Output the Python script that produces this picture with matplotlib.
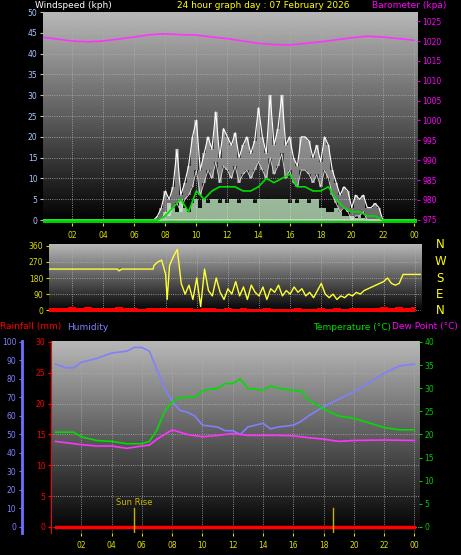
import numpy as np
import matplotlib
matplotlib.use("Agg")
import matplotlib.pyplot as plt

W, H = 461, 555
# ---------------- data ----------------
gust_hours = np.arange(0, 24.01, 0.25)
gust = [0]*30 + [1,3,7,5,8,17,6,9,13,20,24,12,16,20,17,26,15,22,20,18,21,15,18,20,16,19,27,20,16,30,
                18,22,30,18,20,15,13,20,20,19,15,18,14,20,18,12,9,6,8,7,3,6,5,6,3,3,4,3] + [0]*9
gust_low = [0]*32 + [2,1,3,4,2,5,6,8,12,6,9,12,10,14,9,13,12,10,13,9,11,12,10,12,14,12,10,15,
                    11,13,16,10,12,9,8,12,12,11,9,11,8,12,10,6,4,2,3,2,0,1,1,2,0,0,0,0] + [0]*9
speed = [0]*32 + [2,4,3,2,5,3,2,4,5,3,5,4,5,5,4,5,4,5,5,4,5,5,5,4,5,5,5,5,5,5,5,5,4,5,4,5,5,4,5,5,
                 3,3,2,2,3,2,1,1,1,0.5,1,0.5,0,0,0,0] + [0]*9
avg_hours = [0,7.5,8,8.5,9,9.5,10,10.5,11,11.5,12,12.5,13,13.5,14,14.5,15,15.5,16,16.5,17,17.5,18,18.5,19,19.5,20,20.5,21,21.5,22,24.2]
avg_wind = [0,0,1,3,5,2,7,5,7,8,8,8,7,7,8,10,9,10,11,8,8,7,7,8,5,3,2,2,1,1,0,0]
baro_hours = list(range(0, 25))
baro = [1021,1020.5,1020,1019.8,1020,1020.5,1021,1021.6,1021.8,1021.6,1021.5,1021,1020.6,1020,
        1019.4,1019.1,1019,1019.4,1019.8,1020.3,1020.8,1021.2,1021,1020.6,1020.2]

dir_hours = [0.5,4.9,5.0,5.2,7.2,7.25,7.5,7.75,8,8.1,8.25,8.5,8.75,9,9.25,9.5,9.75,10,10.25,10.5,10.75,11,
             11.25,11.5,11.75,12,12.25,12.5,12.75,13,13.25,13.5,13.75,14,14.25,14.5,14.75,15,15.25,15.5,
             15.75,16,16.25,16.5,16.75,17,17.25,17.5,17.75,18,18.25,18.5,18.75,19,19.25,19.5,19.75,20,
             20.25,20.5,20.75,21,21.25,21.5,21.75,22,22.25,22.5,22.75,23,23.25,24.4]
wind_dir = [230,230,220,230,230,250,270,280,200,60,250,300,340,150,90,140,60,180,20,230,110,80,180,100,
            60,120,90,160,80,130,60,140,100,80,130,60,120,100,140,80,110,90,130,100,120,80,100,70,110,
            150,90,70,90,60,80,70,90,80,100,90,110,120,130,140,150,160,180,150,140,150,200,200]
spd_hours = np.arange(0.5, 24.41, 0.5)
spd_mid = [12,15,10,18,12,20,10,14,12,16,10,12,8,14,10,12,15,10,12,8,10,12,9,11,8,10,7,9,10,8,
           9,7,10,8,9,11,8,10,9,12,14,10,13,20,15,18,14,20]

hum_hours = [0.3,1,1.5,2,3,4,5,5.5,6,6.5,7,7.5,8,8.5,9,9.5,10,11,11.5,12,12.5,13,14,14.5,15,16,16.5,17,18,19,20,21,22,23,24]
humidity = [88,86,86,89,91,94,95,97,97,95,85,75,68,63,62,60,55,54,52,52,50,54,56,53,54,55,57,60,65,69,73,78,83,87,88]
temp_hours = [0.3,1.5,2,3,4,5,6,6.5,7,7.5,8,8.5,9,9.5,10,11,11.5,12,12.5,13,14,14.5,15,16,16.5,17,18,19,20,21,22,23,24]
temperature = [20.5,20.5,19.5,18.7,18.5,18,18,18.5,21,25,27,28,28,28,29.5,30,31,31,32,30,29.5,30.5,30,29.5,29.5,27.5,25.5,24,23.5,22.5,21.5,21,21]
dew_hours = [0.3,2,3,4,5,6,6.5,7,7.5,8,9,10,11,12,13,14,15,16,17,18,19,20,22,24]
dewpoint = [18.5,17.8,17.5,17.5,17,17.5,17.7,19,20,21,20,19.5,19.8,20.2,19.8,19.8,19.8,19.7,19.3,19,18.5,18.7,18.8,18.7]
rain_hours = [0.3, 24]
rainfall = [0, 0]
sun_events = [5.5, 18.6]

hour_ticks = list(range(2, 25, 2))
hour_labels = ["%02d" % (h % 24) for h in hour_ticks]

# ---------------- figure ----------------
fig = plt.figure(figsize=(W/100, H/100), dpi=100, facecolor="black")
def ax_at(l, t, r, b):
    return fig.add_axes([l/W, 1-b/H, (r-l)/W, (b-t)/H])

grad = np.linspace(0.72, 0.0, 256).reshape(-1, 1)
def style(ax, xlim):
    ax.set_facecolor("black")
    ax.imshow(grad, cmap="gray", vmin=0, vmax=1, aspect="auto", extent=[0, 1, 0, 1],
              transform=ax.transAxes, zorder=0)
    ax.set_xlim(*xlim)
    ax.set_xticks(hour_ticks)
    ax.grid(True, color="#b0b0b0", ls=":", lw=0.6, zorder=1)
    for s in ax.spines.values():
        s.set_visible(False)
    ax.tick_params(axis="x", colors="#dddd00", labelcolor="#dddd00", labelsize=5.5, length=2)
    ax.tick_params(axis="y", labelsize=5.5, length=2, pad=2)

fs = 6.5
# ---- top panel ----
ax1 = ax_at(43, 12, 417, 223)
style(ax1, (0.13, 24.2))
ax1.set_xticklabels(hour_labels)
ax1.set_ylim(-0.7, 50)
ax1.set_yticks(range(0, 51, 5))
ax1.tick_params(axis="y", colors="#c0c0c0", labelcolor="#a8c8ff")
ax1.axhline(0, color="#c8c8c8", lw=1.2, zorder=2)
ax1.fill_between(gust_hours, gust_low, gust, step="mid", color="#e8e8e8", alpha=0.45, zorder=2, lw=0)
ax1.plot(gust_hours, gust, color="white", lw=0.8, zorder=3)
ax1.plot(gust_hours, gust_low, color="#dddddd", lw=0.6, zorder=3)
ax1.fill_between(gust_hours, 0, speed, step="mid", color="#c8f0c8", alpha=0.75, zorder=4, lw=0)
ax1.plot(avg_hours, avg_wind, color="#00dd00", lw=1.2, zorder=5)
ax1.axhline(-0.5, color="#00cc00", lw=1.5, zorder=5)
ax1b = ax1.twinx()
ax1b.set_ylim(974.2, 1027.3)
ax1b.set_yticks(range(975, 1026, 5))
for s in ax1b.spines.values():
    s.set_visible(False)
ax1b.tick_params(axis="y", colors="#dd00dd", labelcolor="#ff00ff", labelsize=5.5, length=2, pad=2)
ax1b.plot(baro_hours, baro, color="#ff33ff", lw=1.2)
fig.text(35/W, 1-6/H, "Windspeed (kph)", color="white", fontsize=fs, va="center")
fig.text(263/W, 1-6/H, "24 hour graph day : 07 February 2026", color="yellow", fontsize=fs, va="center", ha="center")
fig.text(372/W, 1-6/H, "Barometer (kpa)", color="#ff00ff", fontsize=fs, va="center")

# ---- middle panel ----
ax2 = ax_at(49, 244, 421, 312)
style(ax2, (0.51, 24.4))
ax2.set_xticklabels([])
ax2.tick_params(axis="x", length=0)
ax2.set_ylim(-10, 370)
ax2.set_yticks(range(0, 361, 90))
ax2.tick_params(axis="y", colors="#dddd00", labelcolor="#dddd00")
ax2.fill_between(spd_hours, -10, spd_mid, step="mid", color="red", lw=0, zorder=3)
ax2.plot(dir_hours, wind_dir, color="#ffff33", lw=1.0, zorder=4)
for lab, yy in zip(["N", "W", "S", "E", "N"], [245, 261, 278, 294, 310]):
    fig.text(440/W, 1-yy/H, lab, color="yellow", fontsize=8.5, va="center", ha="center")

# ---- bottom panel ----
ax3 = ax_at(51, 341, 419, 533)
style(ax3, (0.0, 24.3))
ax3.set_xticklabels(hour_labels)
ax3.set_ylim(-1.0, 30.15)
ax3.set_yticks(range(0, 31, 5))
ax3.spines["left"].set_visible(True)
ax3.spines["left"].set_color("red")
ax3.tick_params(axis="y", colors="red", labelcolor="red")
ax3.plot(rain_hours, rainfall, color="red", lw=2.5, zorder=6)
for h in sun_events:
    ax3.plot([h, h], [-1, 3], color="#c8b400", lw=1, zorder=6)
ax3.text(sun_events[0], 3.2, "Sun Rise", color="#c8b400", fontsize=6, ha="center", va="bottom")
axh = ax3.twinx()
axh.set_ylim(-3.3, 100.5)
axh.set_yticks(range(0, 101, 10))
for s in axh.spines.values():
    s.set_visible(False)
axh.spines["left"].set_visible(True)
axh.spines["left"].set_position(("outward", 21))
axh.spines["left"].set_color("#7070ff")
axh.spines["left"].set_linewidth(2)
axh.yaxis.set_ticks_position("left")
axh.yaxis.set_label_position("left")
axh.tick_params(axis="y", colors="#7070ff", labelcolor="#8080ff", labelsize=5.5, length=2, pad=2)
axh.plot(hum_hours, humidity, color="#8080ff", lw=1.2)
axt = ax3.twinx()
axt.set_ylim(-1.3, 40.2)
axt.set_yticks(range(0, 41, 5))
for s in axt.spines.values():
    s.set_visible(False)
axt.tick_params(axis="y", colors="#00cc00", labelcolor="#00cc00", labelsize=5.5, length=2, pad=2)
axt.plot(temp_hours, temperature, color="#00dd00", lw=1.2)
axt.plot(dew_hours, dewpoint, color="#ff33ff", lw=1.2)
fig.text(0, 1-327/H, "Rainfall (mm)", color="red", fontsize=fs, va="center")
fig.text(67/W, 1-327/H, "Humidity", color="#8080ff", fontsize=fs, va="center")
fig.text(313/W, 1-327/H, "Temperature (\u00b0C)", color="#00dd00", fontsize=fs, va="center")
fig.text(392/W, 1-327/H, "Dew Point (\u00b0C)", color="#ff00ff", fontsize=fs, va="center")

fig.savefig("out.png", dpi=100, facecolor="black")
